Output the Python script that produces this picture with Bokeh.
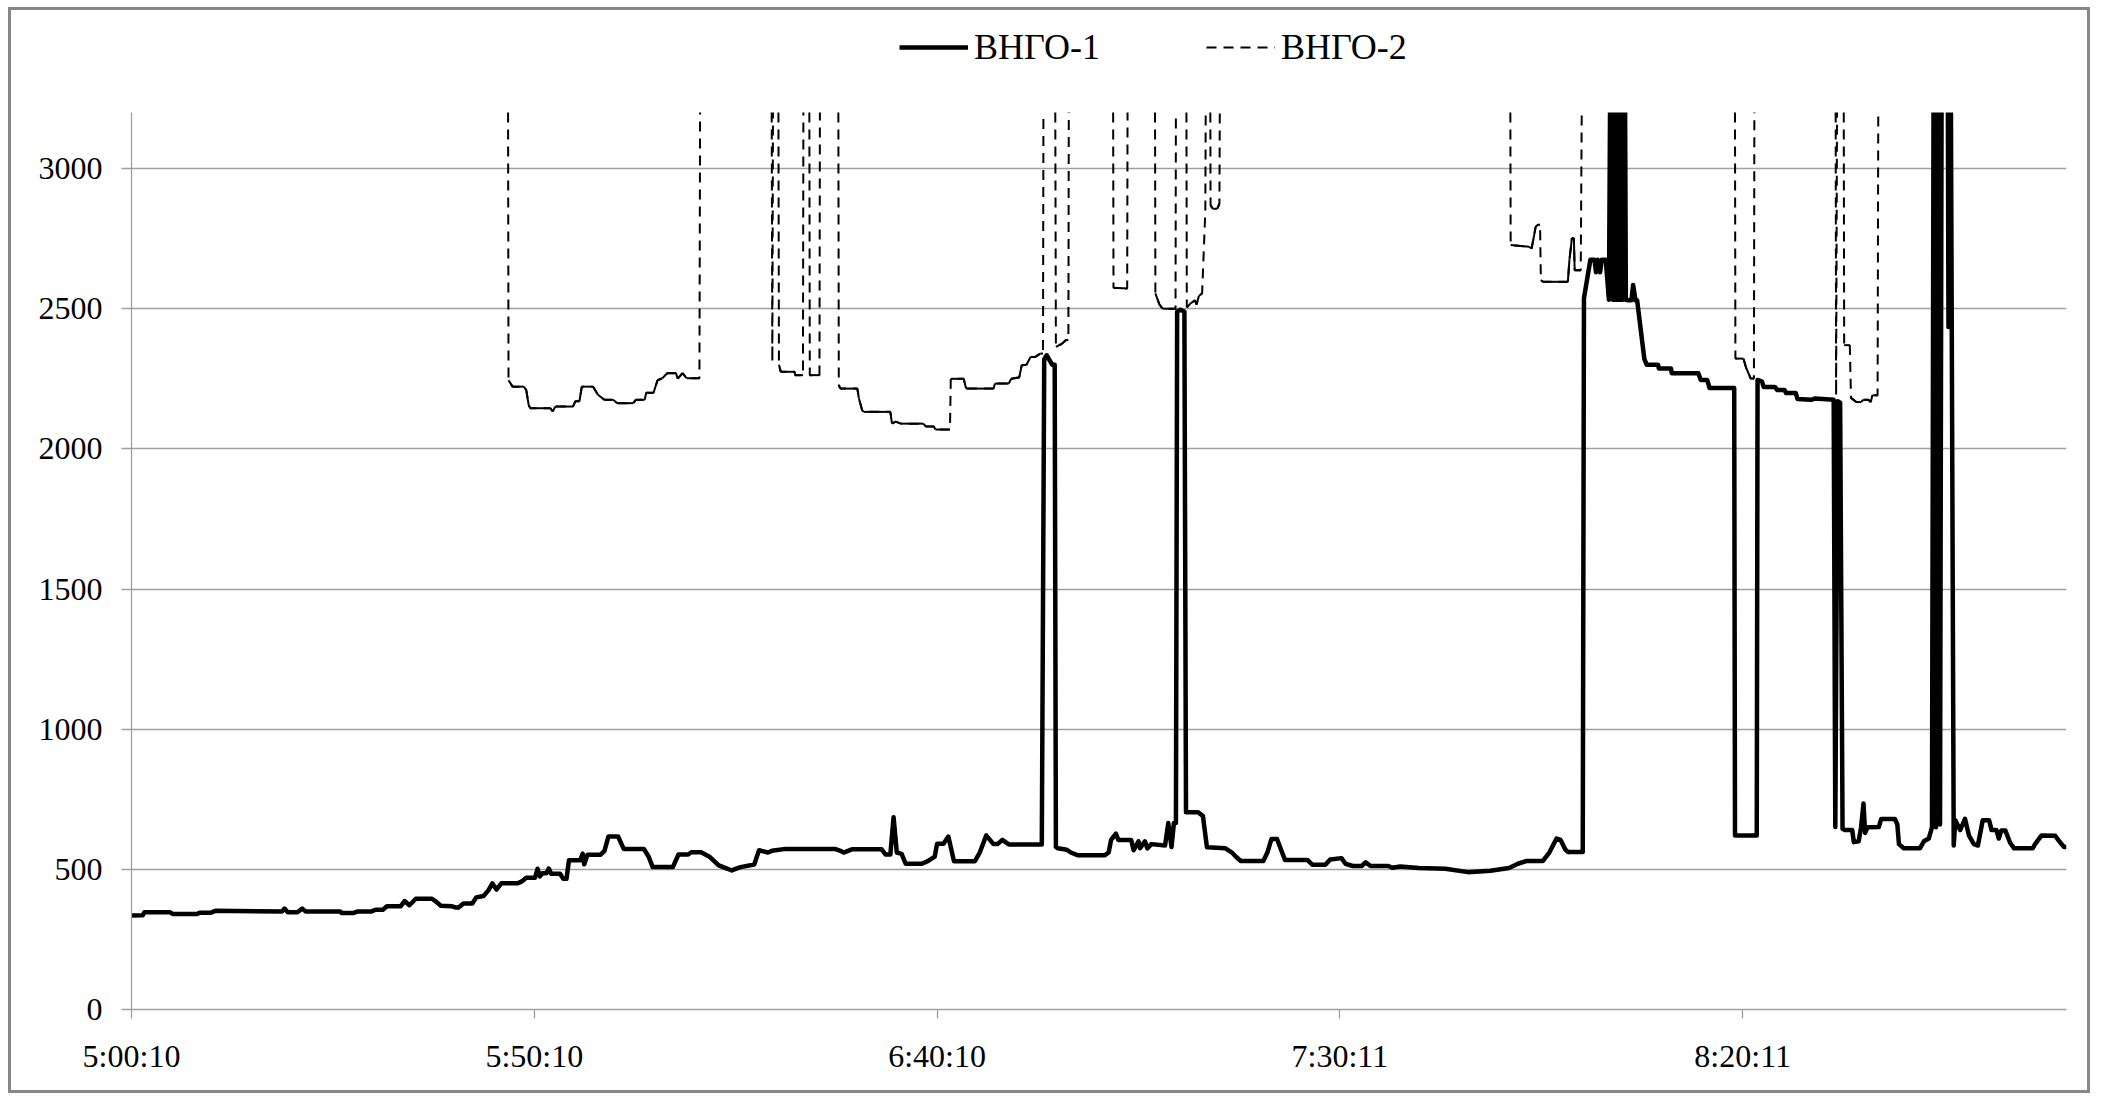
import math
from bokeh.plotting import figure
from bokeh.models import Range1d, FixedTicker, Legend, LegendItem
from bokeh.embed import file_html
from bokeh.resources import INLINE

# ---- data (time in minutes after 5:00:10) ----
series_names = ["ВНГО-1", "ВНГО-2"]
x_tick_pos = [0, 50, 100, 150, 200]
x_tick_labels = ["5:00:10", "5:50:10", "6:40:10", "7:30:11", "8:20:11"]
y_ticks = [0, 500, 1000, 1500, 2000, 2500, 3000]
y_axis_max = 3200

vngo1_t = [0.0, 1.4, 1.6, 4.8, 5.1, 8.2, 8.4, 9.8, 10.4, 18.7, 19.0, 19.4, 20.6, 21.2, 21.6, 25.9,
           26.1, 27.5, 28.1, 29.8, 30.3, 31.2, 31.7, 33.4, 33.9, 34.5, 35.3, 37.3, 37.8, 38.4, 39.8,
           40.2, 40.6, 41.2, 42.3, 42.8, 43.7, 44.3, 44.8, 45.3, 45.9, 47.9, 48.4, 49.0, 50.1, 50.4,
           50.7, 51.0, 51.5, 51.8, 52.1, 53.2, 53.6, 54.0, 54.3, 55.7, 56.0, 56.2, 56.6, 58.2, 58.7,
           59.2, 60.4, 61.1, 63.6, 64.2, 64.7, 67.2, 67.9, 69.1, 69.5, 70.7, 71.8, 72.9, 74.0, 74.5,
           75.6, 77.3, 77.9, 79.0, 79.5, 81.2, 87.3, 88.0, 88.4, 89.5, 93.1, 93.6, 94.2, 94.6, 95.0,
           95.6, 96.1, 98.1, 98.9, 99.7, 100.0, 100.8, 101.4, 102.1, 104.7, 105.3, 106.1, 107.0,
           107.5, 108.1, 108.9, 113.0, 113.3, 113.6, 114.3, 114.6, 114.75, 115.0, 116.1, 116.6,
           117.5, 120.8, 121.3, 121.6, 122.2, 122.5, 124.1, 124.4, 125.0, 125.2, 125.8, 126.1,
           126.6, 128.3, 128.7, 129.1, 129.4, 129.65, 129.8, 130.2, 130.7, 130.9, 132.4, 133.0,
           133.5, 135.8, 136.6, 137.1, 137.7, 140.5, 141.0, 141.5, 142.2, 142.7, 143.2, 146.0,
           146.6, 148.2, 148.8, 150.2, 150.7, 151.6, 152.7, 153.2, 153.8, 156.0, 156.5, 157.5,
           159.8, 163.1, 165.9, 168.7, 171.0, 172.1, 173.2, 175.2, 176.0, 176.9, 177.4, 178.0,
           178.3, 180.15, 180.3, 181.1, 181.6, 181.8, 182.0, 182.3, 182.5, 183.0, 183.4, 183.7,
           183.9, 184.1, 184.3, 184.5, 184.7, 184.9, 185.1, 185.3, 185.5, 185.8, 186.2, 186.4,
           186.7, 186.9, 187.8, 188.1, 189.5, 189.6, 191.1, 191.2, 194.5, 194.8, 195.6, 195.9,
           198.95, 199.05, 201.75, 201.85, 202.4, 202.6, 204.0, 204.3, 205.2, 205.4, 206.6, 206.8,
           208.5, 209.0, 211.3, 211.5, 211.8, 212.1, 212.4, 212.7, 213.6, 213.8, 214.4, 214.7,
           215.0, 215.2, 215.5, 216.9, 217.2, 218.9, 219.2, 219.4, 220.0, 222.0, 222.5, 223.1,
           223.5, 223.75, 224.0, 224.25, 224.5, 224.75, 225.4, 225.55, 225.75, 226.2, 226.4,
           227.0, 227.6, 228.1, 228.7, 229.2, 229.8, 230.6, 230.9, 231.5, 231.8, 232.1, 232.6,
           233.2, 233.7, 236.0, 236.3, 237.1, 238.8, 239.3, 239.9, 240.2]
vngo1_v = [335, 336, 347, 347, 341, 341, 345, 345, 352, 350, 360, 347, 347, 360, 350, 350,
           344, 344, 350, 350, 356, 356, 368, 368, 387, 372, 395, 395, 385, 370, 368,
           364, 364, 378, 378, 400, 405, 425, 450, 428, 450, 450, 456, 470, 470, 502,
           475, 486, 486, 503, 484, 484, 466, 466, 532, 532, 556, 518, 552, 552, 565,
           617, 617, 573, 573, 545, 508, 508, 553, 553, 561, 561, 544, 514, 502, 496,
           508, 517, 568, 560, 566, 573, 573, 566, 560, 572, 572, 553, 553, 686, 560,
           555, 520, 520, 530, 545, 591, 591, 617, 529, 529, 560, 621, 590,
           590, 605, 589, 589, 2320, 2334, 2300, 2300, 580, 575, 570, 560,
           550, 550, 560, 605, 627, 605, 605, 568, 600, 575, 600, 575,
           590, 585, 665, 580, 665, 665, 2490, 2496, 2490, 704, 704, 690,
           579, 575, 560, 545, 530, 530, 560, 608, 608, 570, 533, 533,
           516, 516, 535, 540, 520, 512, 512, 525, 512, 512, 506, 510,
           505, 502, 490, 495, 505, 520, 530, 530, 560, 610, 605, 570,
           562, 562, 2538, 2675, 2675, 2630, 2675, 2630, 2675, 2675, 2532, 4000,
           2532, 4000, 2532, 4000, 2532, 4000, 2532, 4000, 2532, 2530, 2530, 2585,
           2530, 2530, 2320, 2300, 2300, 2287, 2287, 2270, 2270, 2246, 2246, 2217,
           2217, 621, 621, 2246, 2240, 2221, 2221, 2210, 2210, 2199, 2199, 2178,
           2175, 2180, 2175, 651, 2170, 2165, 645, 640, 640, 597, 600, 650,
           735, 630, 650, 651, 680, 680, 660, 590, 575, 575, 600, 610,
           650, 4000, 650, 4000, 660, 4000, 4000, 2435, 4000, 585, 675,
           640, 680, 620, 590, 585, 675, 675, 640, 640, 610, 639, 639,
           595, 575, 575, 590, 621, 620, 600, 580, 580]

vngo2_t = [46.7, 46.8, 47.3, 48.7, 49.0, 49.3, 49.5, 52.0, 52.3, 52.6, 54.8, 55.1, 55.6, 55.9,
           57.3, 57.9, 58.7, 59.8, 60.3, 62.3, 62.6, 63.7, 63.9, 64.8, 65.3, 65.9, 66.5, 67.6,
           67.8, 68.4, 68.9, 70.5, 70.65, 79.4, 79.55, 79.7, 80.25, 80.37, 80.6, 82.3, 82.4,
           83.35, 83.45, 84.1, 84.2, 85.4, 85.5, 87.7, 87.8, 88.0, 90.1, 90.3, 90.7, 90.9, 94.2,
           94.4, 94.85, 95.5, 98.3, 98.6, 99.6, 99.8, 101.6, 101.7, 103.3, 103.6, 107.0, 107.2,
           108.9, 109.2, 110.2, 110.5, 111.1, 111.6, 112.2, 112.8, 113.15, 113.25, 114.6, 114.75,
           115.5, 116.0, 116.3, 116.4, 121.8, 121.9, 123.6, 123.7, 127.0, 127.1, 127.6, 128.0,
           129.6, 129.7, 130.9, 131.0, 131.5, 132.0, 132.2, 132.5, 132.9, 133.3, 133.45, 133.85,
           133.95, 134.2, 134.8, 135.05, 135.2, 171.1, 171.2, 173.5, 173.8, 174.1, 174.3, 174.6,
           174.85, 174.95, 175.2, 178.3, 178.5, 178.8, 179.05, 179.15, 179.9, 180.2, 199.0,
           199.1, 200.1, 200.4, 201.0, 201.4, 201.5, 211.5, 211.6, 211.8, 212.5, 212.6, 213.3,
           213.45, 214.1, 214.7, 215.0, 215.6, 215.9, 216.1, 216.75, 216.9]
vngo2_v = [4000, 2245, 2222, 2222, 2210, 2157, 2145, 2145, 2133, 2151, 2151, 2170, 2170, 2222,
           2222, 2193, 2175, 2175, 2163, 2163, 2175, 2175, 2200, 2200, 2245, 2252, 2270, 2270,
           2250, 2270, 2252, 2252, 4000, 4000, 2310, 4000, 4000, 2300, 2275, 2275, 2263,
           2263, 4000, 4000, 2263, 2263, 4000, 4000, 2227, 2215, 2215, 2180, 2138, 2132, 2132,
           2090, 2097, 2090, 2090, 2080, 2080, 2069, 2069, 2250, 2250, 2215, 2215, 2233,
           2233, 2250, 2255, 2298, 2300, 2328, 2328, 2340, 2340, 4000, 4000, 2364,
           2375, 2388, 2388, 4000, 4000, 2575, 2572, 4000, 4000, 2555, 2515, 2500,
           2500, 4000, 4000, 2505, 2520, 2530, 2515, 2545, 2555, 2850, 4000, 4000,
           2870, 2857, 2857, 2876, 4000, 4000, 2727, 2721, 2715, 2760, 2792, 2800,
           2800, 2602, 2596, 2596, 2675, 2751, 2751, 2637, 2637, 4000, 4000,
           2322, 2322, 2292, 2251, 2251, 4000, 4000, 2190, 4000, 4000, 2370, 2370,
           2182, 2167, 2167, 2175, 2175, 2167, 2191, 2191, 4000]


def clip_top(t, v, top):
    """Cut a polyline where it leaves the value axis (values above `top` are off-scale)."""
    xs, ys = [], []
    for i in range(len(t)):
        if i > 0:
            t0, v0, t1, v1 = t[i - 1], v[i - 1], t[i], v[i]
            if (v0 <= top) != (v1 <= top):
                xs.append(t0 + (top - v0) * (t1 - t0) / (v1 - v0))
                ys.append(top)
                if v1 > top:
                    xs.append(math.nan)
                    ys.append(math.nan)
        if v[i] <= top:
            xs.append(t[i])
            ys.append(v[i])
    return xs, ys


# ---- figure ----
# frame: 897 px for 0..3200; extra room above 3200 holds the legend (no axis there)
top_val = y_axis_max * (897 + 102) / 897
p = figure(width=2082, height=1086, x_range=Range1d(0, 240.2), y_range=Range1d(0, top_val),
           output_backend="svg", toolbar_location=None,
           min_border_left=120, min_border_right=27, min_border_top=0, min_border_bottom=87)
p.styles = {"border": "3px solid #878787"}
p.margin = (7, 0, 0, 8)
p.outline_line_color = None
p.background_fill_color = "white"
p.border_fill_color = "white"

GRID = "#a0a0a0"
FONT = "Liberation Serif"

# ВНГО-2: dashed, with short steps drawn solid (as in the reference)
x2, y2 = clip_top(vngo2_t, vngo2_v, y_axis_max)
r2 = p.line(x2, y2, line_color="black", line_width=2, line_dash="10 7")
seg_x, seg_y = [], []
for i in range(len(vngo2_t) - 1):
    if abs(vngo2_v[i + 1] - vngo2_v[i]) < 150 and max(vngo2_v[i], vngo2_v[i + 1]) < y_axis_max:
        seg_x.append([vngo2_t[i], vngo2_t[i + 1]])
        seg_y.append([vngo2_v[i], vngo2_v[i + 1]])
p.multi_line(seg_x, seg_y, line_color="black", line_width=2)

# ВНГО-1: thick solid
x1, y1 = clip_top(vngo1_t, vngo1_v, y_axis_max)
r1 = p.line(x1, y1, line_color="black", line_width=4.5, line_join="round")

# axes
p.xaxis.ticker = FixedTicker(ticks=x_tick_pos)
p.xaxis.major_label_overrides = {pos: lab for pos, lab in zip(x_tick_pos, x_tick_labels)}
p.yaxis.ticker = FixedTicker(ticks=y_ticks)
p.yaxis.bounds = (0, y_axis_max)
for ax in (p.xaxis, p.yaxis):
    ax.axis_line_color = GRID
    ax.axis_line_width = 1.3
    ax.major_tick_line_color = GRID
    ax.major_tick_line_width = 1.3
    ax.major_tick_in = 0
    ax.minor_tick_line_color = None
    ax.major_label_text_font = FONT
    ax.major_label_text_font_size = "32px"
    ax.major_label_text_color = "black"
p.yaxis.major_tick_out = 10
p.yaxis.major_label_standoff = 19
p.xaxis.major_tick_out = 9
p.xaxis.major_label_standoff = 19

p.xgrid.visible = False
p.ygrid.grid_line_color = GRID
p.ygrid.grid_line_width = 1.3

legend = Legend(items=[LegendItem(label=series_names[0], renderers=[r1]),
                       LegendItem(label=series_names[1], renderers=[r2])],
                orientation="horizontal", location=(768, 941),
                glyph_width=69, glyph_height=40, label_height=40, label_standoff=6,
                spacing=106, padding=0, margin=0,
                border_line_color=None, background_fill_alpha=0,
                label_text_font=FONT, label_text_font_size="36px", label_text_color="black")
p.add_layout(legend, "center")

open("out.html", "w").write(file_html(p, INLINE))
